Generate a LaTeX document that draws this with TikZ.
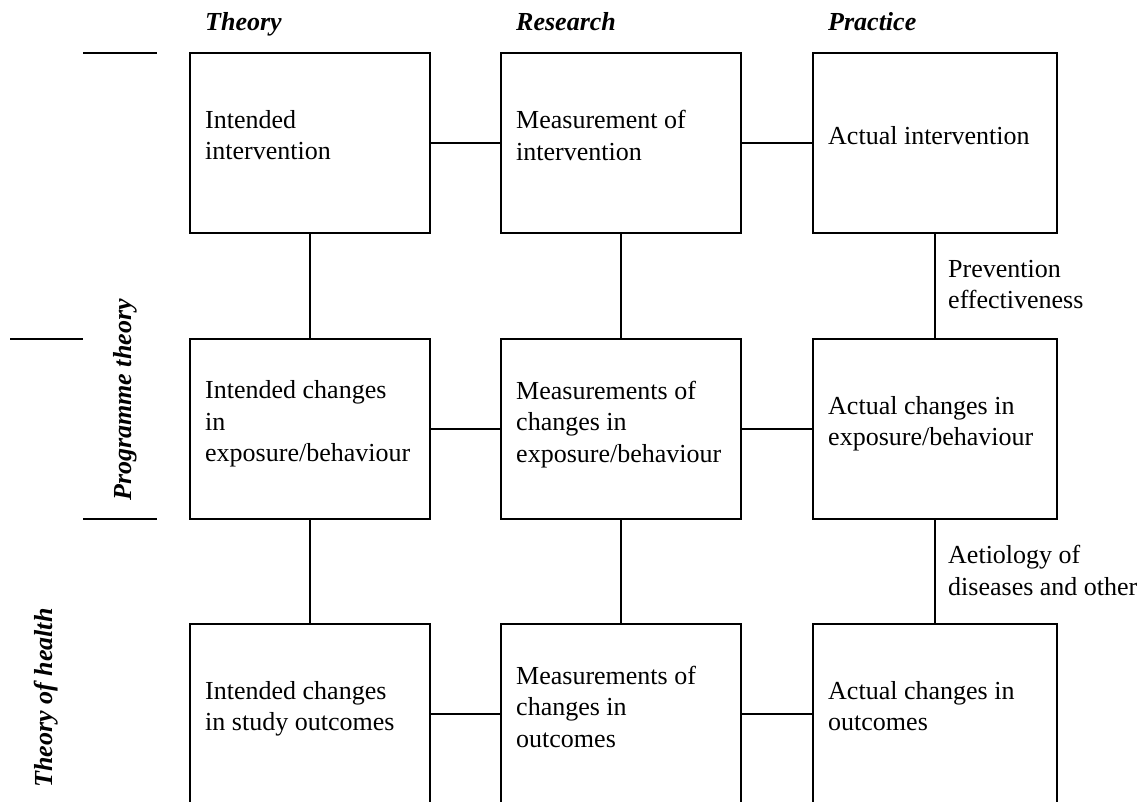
\documentclass[tikz,border=0pt]{standalone}
\usepackage{fontspec}
\setmainfont{Liberation Serif}
\begin{document}
\begin{tikzpicture}[x=1pt,y=1pt,
  box/.style={draw, line width=2pt, rectangle, inner sep=0pt, outer sep=0pt, minimum height=180pt},
  txt/.style={font=\fontsize{26}{31.5}\selectfont, align=left, inner sep=0pt, anchor=north west},
  hdr/.style={font=\fontsize{26}{31.5}\selectfont\bfseries\itshape, inner sep=0pt},
  link/.style={line width=2pt}]
\useasboundingbox (0,0) rectangle (1147,801);
\clip (0,0) rectangle (1147,801);

% boxes
\node[box, minimum width=240pt] (b11) at (310,658) {};
\node[box, minimum width=240pt] (b12) at (621,658) {};
\node[box, minimum width=244pt] (b13) at (935,658) {};
\node[box, minimum width=240pt] (b21) at (310,372) {};
\node[box, minimum width=240pt] (b22) at (621,372) {};
\node[box, minimum width=244pt] (b23) at (935,372) {};
\node[box, minimum width=240pt] (b31) at (310,87) {};
\node[box, minimum width=240pt] (b32) at (621,87) {};
\node[box, minimum width=244pt] (b33) at (935,87) {};

% box texts
\node[txt] (t11) at ([shift={(15,-57)}]b11.north west) {Intended\\intervention};
\node[txt] (t12) at ([shift={(15,-57)}]b12.north west) {Measurement of\\intervention};
\node[txt] (t13) at ([shift={(15,-73)}]b13.north west) {Actual intervention};
\node[txt] (t21) at ([shift={(15,-41.5)}]b21.north west) {Intended changes\\in\\exposure/behaviour};
\node[txt] (t22) at ([shift={(15,-41.5)}]b22.north west) {Measurements of\\changes in\\exposure/behaviour};
\node[txt] (t23) at ([shift={(15,-57)}]b23.north west) {Actual changes in\\exposure/behaviour};
\node[txt] (t31) at ([shift={(15,-57)}]b31.north west) {Intended changes\\in study outcomes};
\node[txt] (t32) at ([shift={(15,-41.5)}]b32.north west) {Measurements of\\changes in\\outcomes};
\node[txt] (t33) at ([shift={(15,-57)}]b33.north west) {Actual changes in\\outcomes};

% headers
\node[hdr, anchor=base west] (h1) at ([shift={(15,22)}]b11.north west) {Theory};
\node[hdr, anchor=base west] (h2) at ([shift={(15,22)}]b12.north west) {Research};
\node[hdr, anchor=base west] (h3) at ([shift={(15,22)}]b13.north west) {Practice};

% connectors
\draw[link] (b11) -- (b12);
\draw[link] (b12) -- (b13);
\draw[link] (b21) -- (b22);
\draw[link] (b22) -- (b23);
\draw[link] (b31) -- (b32);
\draw[link] (b32) -- (b33);
\draw[link] (b11) -- (b21);
\draw[link] (b21) -- (b31);
\draw[link] (b12) -- (b22);
\draw[link] (b22) -- (b32);
\draw[link] (b13) -- (b23);
\draw[link] (b23) -- (b33);

% side labels
\node[txt] (l1) at ([shift={(13,-27)}]b13.south) {Prevention\\effectiveness};
\node[txt] (l2) at ([shift={(13,-26)}]b23.south) {Aetiology of\\diseases and other};

% left markers
\coordinate (m1a) at (83,748);
\coordinate (m1b) at (157,748);
\coordinate (m2a) at (10,462);
\coordinate (m2b) at (83,462);
\coordinate (m3a) at (83,282);
\coordinate (m3b) at (157,282);
\draw[link] (m1a) -- (m1b);
\draw[link] (m2a) -- (m2b);
\draw[link] (m3a) -- (m3b);

\node[hdr, rotate=90, anchor=base] (pt) at (131,401) {Programme theory};
\node[hdr, rotate=90, anchor=base] (th) at (52,103) {Theory of health};
\end{tikzpicture}
\end{document}
